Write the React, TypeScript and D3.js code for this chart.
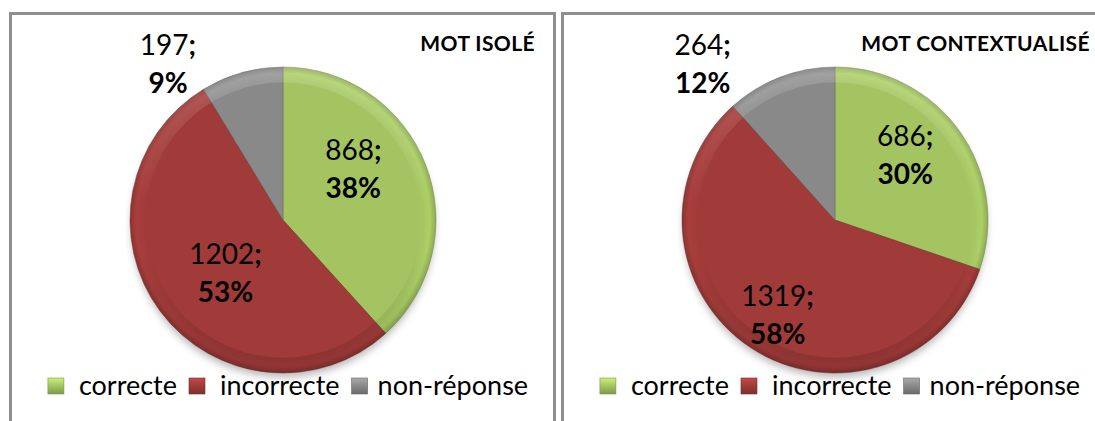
import React, { useEffect, useRef } from 'react';
import * as d3 from 'd3';

// Data
const categories = ['correcte', 'incorrecte', 'non-réponse'];
const isoleValues = [868, 1202, 197];
const contextValues = [686, 1319, 264];
const chartTitles = ['MOT ISOLÉ', 'MOT CONTEXTUALISÉ'];
const sliceColors = ['#a3c461', '#a03b39', '#898989'];

const width = 1095;
const height = 421;
const font = "Lato, 'Open Sans', sans-serif";
const radius = 153;
const cy = 220;

// where each label sits : [fraction of slice angle, fraction of radius]
const panels = [
  {
    values: isoleValues,
    title: chartTitles[0],
    left: 10.5,
    right: 554.5,
    cx: 283,
    titleX: 535,
    labelPos: [[0.39, 0.57], [0.47, 0.51], [-0.16, 1.27]],
  },
  {
    values: contextValues,
    title: chartTitles[1],
    left: 562.5,
    right: 1120,
    cx: 835,
    titleX: 1090,
    labelPos: [[0.43, 0.63], [0.49, 0.72], [0.04, 1.34]],
  },
];

// gap between legend marker and its text (Excel spacing)
const legendTextGap = [15, 15, 10];

const App = () => {
  const svgRef = useRef<SVGSVGElement>(null);

  useEffect(() => {
    const svg = d3.select(svgRef.current);
    svg.selectAll('*').remove();

    const defs = svg.append('defs');

    const blur = defs.append('filter').attr('id', 'pieShadow')
      .attr('x', '-20%').attr('y', '-20%').attr('width', '140%').attr('height', '140%');
    blur.append('feGaussianBlur').attr('stdDeviation', 4);

    // legend marker gradients
    sliceColors.forEach((c, j) => {
      const g = defs.append('linearGradient').attr('id', `mark-${j}`)
        .attr('x1', 0).attr('y1', 0).attr('x2', 0).attr('y2', 1);
      g.append('stop').attr('offset', 0).attr('stop-color', d3.color(c)!.brighter(0.6).toString());
      g.append('stop').attr('offset', 0.5).attr('stop-color', c);
      g.append('stop').attr('offset', 1).attr('stop-color', d3.color(c)!.darker(0.7).toString());
    });

    // rim light for the bevel
    const rim = defs.append('linearGradient').attr('id', 'rim')
      .attr('x1', 0).attr('y1', 0).attr('x2', 0).attr('y2', 1);
    rim.append('stop').attr('offset', 0).attr('stop-color', '#fff').attr('stop-opacity', 0.15);
    rim.append('stop').attr('offset', 0.45).attr('stop-color', '#fff').attr('stop-opacity', 0);
    rim.append('stop').attr('offset', 0.6).attr('stop-color', '#000').attr('stop-opacity', 0);
    rim.append('stop').attr('offset', 1).attr('stop-color', '#000').attr('stop-opacity', 0.15);

    panels.forEach((p, i) => {
      // panel border (open at the bottom, cut by the page)
      svg.append('path')
        .attr('d', `M${p.left},${height + 5}V13.5H${p.right}V${height + 5}`)
        .attr('fill', 'none')
        .attr('stroke', '#8e8e8e')
        .attr('stroke-width', 3);

      const total = d3.sum(p.values);
      const pie = d3.pie<number>().sort(null).value((d) => d);
      const arcs = pie(p.values);
      const arc = d3.arc<d3.PieArcDatum<number>>().innerRadius(0).outerRadius(radius);

      const g = svg.append('g').attr('transform', `translate(${p.cx},${cy})`);

      // soft shadow under the pie
      g.append('circle')
        .attr('cx', 0).attr('cy', 6).attr('r', radius - 2)
        .attr('fill', '#000').attr('opacity', 0.3)
        .attr('filter', 'url(#pieShadow)');

      arcs.forEach((a, j) => {
        const base = sliceColors[j];
        const grad = defs.append('radialGradient').attr('id', `slice-${i}-${j}`)
          .attr('gradientUnits', 'userSpaceOnUse')
          .attr('cx', 0).attr('cy', 0).attr('r', radius);
        grad.append('stop').attr('offset', 0).attr('stop-color', base);
        grad.append('stop').attr('offset', 0.9).attr('stop-color', base);
        grad.append('stop').attr('offset', 0.96).attr('stop-color', d3.color(base)!.brighter(0.15).toString());
        grad.append('stop').attr('offset', 1).attr('stop-color', d3.color(base)!.darker(0.4).toString());

        g.append('path')
          .attr('d', arc(a))
          .attr('fill', `url(#slice-${i}-${j})`)
          .attr('stroke', d3.color(base)!.darker(1).toString())
          .attr('stroke-opacity', 0.6)
          .attr('stroke-width', 0.8)
          .attr('stroke-linejoin', 'round');
      });

      // bevel ring over the whole pie
      g.append('path')
        .attr('d', d3.arc()({ innerRadius: radius * 0.9, outerRadius: radius, startAngle: 0, endAngle: 2 * Math.PI })!)
        .attr('fill', 'url(#rim)');

      // data labels
      arcs.forEach((a, j) => {
        const [t, k] = p.labelPos[j];
        const ang = a.startAngle + t * (a.endAngle - a.startAngle);
        const x = k * radius * Math.sin(ang);
        const y = -k * radius * Math.cos(ang);
        const pct = Math.round((a.data / total) * 100);

        const txt = g.append('text')
          .attr('text-anchor', 'middle')
          .attr('font-family', font)
          .attr('font-size', 28)
          .attr('fill', '#000');
        const l1 = txt.append('tspan').attr('x', x).attr('y', y - 8.5);
        l1.append('tspan').text(`${a.data}`);
        l1.append('tspan').attr('font-weight', 'bold').text(';');
        txt.append('tspan').attr('x', x).attr('y', y + 29.5)
          .attr('font-weight', 'bold').text(`${pct}%`);
      });

      // title
      svg.append('text')
        .attr('x', p.titleX).attr('y', 51)
        .attr('text-anchor', 'end')
        .attr('font-family', font)
        .attr('font-weight', 'bold')
        .attr('font-size', 21)
        .attr('letter-spacing', 0.4)
        .text(p.title);

      // legend
      const lg = svg.append('g');
      let cursor = 0;
      categories.forEach((c, j) => {
        lg.append('rect')
          .attr('x', cursor).attr('y', -17)
          .attr('width', 16).attr('height', 16)
          .attr('fill', `url(#mark-${j})`)
          .attr('stroke', d3.color(sliceColors[j])!.darker(0.8).toString())
          .attr('stroke-width', 0.6);
        cursor += 16 + legendTextGap[j];
        const t = lg.append('text')
          .attr('x', cursor).attr('y', 0)
          .attr('font-family', font)
          .attr('font-size', 27)
          .attr('fill', '#000')
          .text(c);
        cursor += (t.node() as SVGTextElement).getComputedTextLength() + 12;
      });
      const legendWidth = cursor - 12;
      lg.attr('transform', `translate(${p.cx + 5 - legendWidth / 2},395)`);
    });
  }, []);

  return (
    <svg
      ref={svgRef}
      width={width}
      height={height}
      style={{ position: 'absolute', left: 0, top: 0, background: '#fff' }}
    />
  );
};

export default App;
